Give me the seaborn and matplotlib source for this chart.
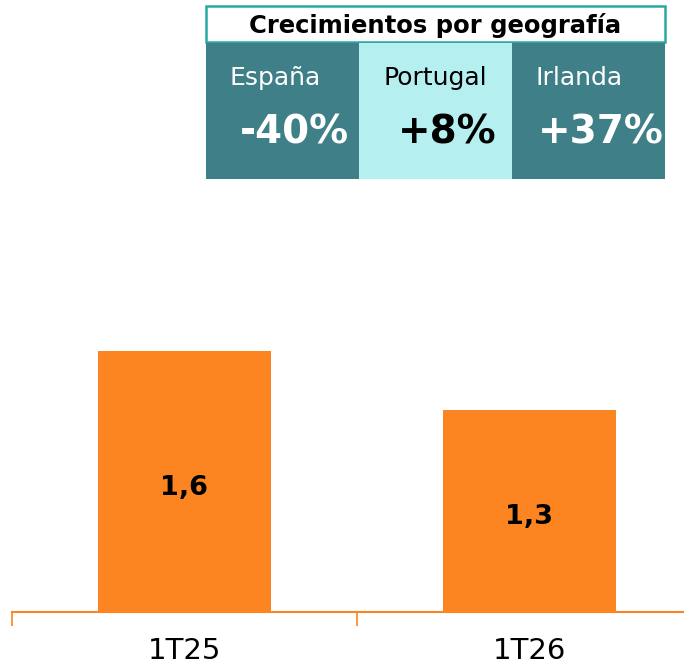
import pandas as pd
import matplotlib.pyplot as plt
import seaborn as sns
from matplotlib.patches import Rectangle

# === data ===
periods = ["1T25", "1T26"]
values = [1.64, 1.27]

regions = ["España", "Portugal", "Irlanda"]
growth = ["-40%", "+8%", "+37%"]
cell_colors = ["#3f7f87", "#b5efef", "#3f7f87"]
text_colors = ["white", "black", "white"]
box_title = "Crecimientos por geografía"

orange = "#fd8521"

sns.set_theme(style="white")
plt.rcParams["font.family"] = ["DejaVu Sans"]

df = pd.DataFrame({"period": periods, "value": values})

W, H = 684, 667
fig = plt.figure(figsize=(W / 100, H / 100), dpi=100)

# axes: bottom at y=612 px, left at x=12 px
ax = fig.add_axes([12 / W, 1 - 612 / H, (W - 12) / W, (612 - 200) / H])
sns.barplot(data=df, x="period", y="value", color=orange, saturation=1,
            width=0.5, ax=ax, linewidth=0)
ax.set_xlim(-0.5, -0.5 + (W - 12) / 345)
ax.set_ylim(0, (612 - 200) / 159)

for i, v in enumerate(values):
    lab = f"{v:.1f}".replace(".", ",")
    ax.text(i, v / 2 - 0.04, lab, ha="center", va="center",
            fontsize=19.5, fontweight="bold", color="black")

for s in ["top", "right", "left"]:
    ax.spines[s].set_visible(False)
ax.spines["bottom"].set_color(orange)
ax.spines["bottom"].set_linewidth(1.5)
ax.set_yticks([])
ax.set_xlabel("")
ax.set_ylabel("")
ax.set_xticks([-0.5, 0.5], minor=True)
ax.tick_params(axis="x", which="minor", length=10, width=1.2, color=orange,
               bottom=True)
ax.tick_params(axis="x", which="major", length=0, pad=18, labelsize=21,
               labelcolor="black")

# === growth box at the top ===
def px(x, y):
    return x / W, 1 - y / H

x0, x1 = 206, 665
fig.add_artist(Rectangle(px(x0, 42), (x1 - x0) / W, 36 / H,
                         transform=fig.transFigure, facecolor="white",
                         edgecolor="#2aa9a3", linewidth=1.8))
fig.text(*px((x0 + x1) / 2, 25), box_title, ha="center", va="center",
         fontsize=17.5, fontweight="heavy", color="black")

cw = (x1 - x0) / 3
for i, (r, g, fc, tc) in enumerate(zip(regions, growth, cell_colors, text_colors)):
    cx = x0 + i * cw
    fig.add_artist(Rectangle(px(cx, 179), cw / W, 136 / H,
                             transform=fig.transFigure, facecolor=fc,
                             edgecolor="none"))
    fig.text(*px(cx + 24, 78), r, ha="left", va="center",
             fontsize=18, color=tc)
    fig.text(*px(cx + cw / 2 + 12, 132), g, ha="center", va="center",
             fontsize=28, fontweight="bold", color=tc)

fig.savefig("out.png", dpi=100)
